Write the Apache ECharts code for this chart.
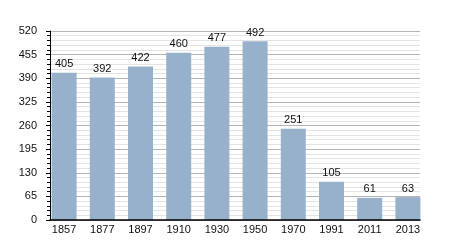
<!DOCTYPE html>
<html><head><meta charset="utf-8">
<script src="https://cdn.jsdelivr.net/npm/echarts@6/dist/echarts.min.js"></script>
<style>html,body{margin:0;padding:0;background:#fff}#c{width:450px;height:250px}</style>
</head><body><div id="c"></div>
<script>
const years = ['1857','1877','1897','1910','1930','1950','1970','1991','2011','2013'];
const population = [405,392,422,460,477,492,251,105,61,63];
const yTicks = [0,65,130,195,260,325,390,455,520];

const chart = echarts.init(document.getElementById('c'), null, {renderer:'canvas'});
const font = 'Liberation Sans, Arial, sans-serif';
chart.setOption({
  animation:false,
  grid:[
    {left:50, right:30, top:31, bottom:30, containLabel:false},
    {left:45, right:23, top:31, bottom:30, containLabel:false}
  ],
  xAxis:[
    {gridIndex:0, type:'value', min:0, max:1, z:20, axisLine:{show:true,lineStyle:{color:'#000',width:1.5}}, axisTick:{show:false}, axisLabel:{show:false}, splitLine:{show:false}},
    {gridIndex:1, type:'category', data:years, axisLine:{show:false}, axisTick:{show:false},
     axisLabel:{color:'#111', fontFamily:font, fontSize:11, margin:4}}
  ],
  yAxis:[
    {gridIndex:0, type:'value', min:yTicks[0], max:yTicks[yTicks.length-1], interval:65,
     axisLine:{show:true,lineStyle:{color:'#000',width:1}},
     axisTick:{show:true, inside:false, length:4, lineStyle:{color:'#000'}},
     minorTick:{show:true, splitNumber:5, length:3, lineStyle:{color:'#000'}},
     axisLabel:{color:'#111', fontFamily:font, fontSize:11, margin:13},
     splitLine:{show:true, lineStyle:{color:'#b3b3b3', width:1}},
     minorSplitLine:{show:true, lineStyle:{color:'#e4e4e4', width:1}}},
    {gridIndex:1, type:'value', min:yTicks[0], max:yTicks[yTicks.length-1], interval:65, show:false, splitLine:{show:false}}
  ],
  series:[{
    type:'bar', xAxisIndex:1, yAxisIndex:1, data:population, barWidth:25,
    itemStyle:{color:'#98b1cb'},
    label:{show:true, position:'top', distance:3, color:'#111', fontFamily:font, fontSize:11}
  }]
});
</script></body></html>
